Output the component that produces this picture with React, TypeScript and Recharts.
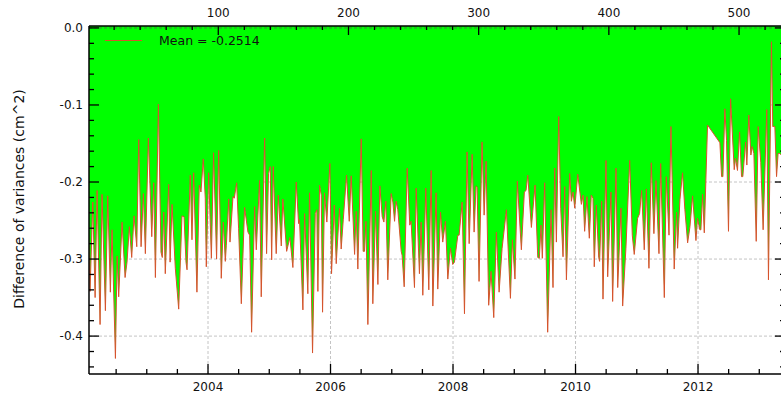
import React from 'react';
import { AreaChart, Area, XAxis, YAxis, CartesianGrid, Legend, ReferenceLine } from 'recharts';

// Sample index (top axis)
const weekIndex = [
  0, 1.5, 3.6, 5.4, 6.9, 9.2, 10.7, 13.3, 15.1, 17.1, 18.4, 21.0, 22.3, 23.5, 26.1, 28.4, 29.9, 31.7, 33.5, 35.3,
  37.4, 38.9, 40.7, 42.5, 44.0, 46.3, 48.9, 50.4, 51.7, 54.0, 56.0, 57.0, 58.1, 59.3, 61.9, 63.0, 64.5, 67.0, 69.6, 72.1,
  73.7, 75.2, 76.0, 78.5, 79.8, 81.1, 83.6, 85.4, 86.7, 88.5, 90.0,
  90.8, 92.6, 94.7, 96.4, 98.7, 100.3, 102.3, 103.9, 105.4, 106.2, 108.0, 109.0, 111.3, 112.3, 114.1, 115.6, 117.7, 120.2, 122.8,
  124.1, 125.6, 127.9, 129.2, 131.7, 133.0, 135.6, 137.1, 138.6, 139.9, 141.0, 142.2, 144.5, 146.1, 148.4, 149.6, 152.5, 155.0,
  157.3, 159.9, 161.7, 162.4, 165.0, 166.3, 168.8, 170.1, 172.4, 174.5, 175.7, 176.5, 177.8, 179.1,
  180.1, 181.6, 183.4, 185.7, 187.0, 189.1, 190.6, 193.1, 194.4, 196.0, 198.5, 200.6, 202.1, 204.7, 205.9, 207.2, 209.8, 211.3,
  212.3, 213.4, 214.9, 217.5, 218.7, 220.8, 222.6, 224.1, 225.9, 227.2, 228.7, 230.2, 232.8, 234.1, 235.4, 236.6, 237.9, 240.5,
  241.2, 242.8, 245.1, 247.1, 248.1, 250.7, 252.0, 254.5, 255.8, 257.1, 259.4, 261.7, 263.5, 264.8, 267.3,
  268.6, 270.7, 272.4, 274.5, 276.3, 278.3, 280.1, 281.4, 284.0, 285.0, 287.3, 289.1, 291.1, 292.7, 295.0, 296.5, 298.0, 298.8,
  300.3, 302.6, 304.2, 305.7, 307.7, 309.5, 311.6, 313.6, 315.7, 318.0, 321.3, 324.4, 325.9, 327.9, 329.7, 332.8, 335.1, 336.4,
  337.7, 340.5, 343.3, 345.4, 346.6, 347.9, 348.9, 350.7, 353.0, 355.6,
  357.1, 358.4, 359.7, 361.5, 363.0, 364.8, 366.1, 367.4, 369.9, 371.2, 372.5, 373.8, 376.1, 378.9, 380.2, 381.4, 383.2, 385.0,
  386.5, 387.8, 388.8, 390.4, 392.2, 392.9, 394.5, 395.5, 397.8, 399.1, 401.6, 402.9, 405.5, 406.8, 409.3, 410.6, 413.1, 416.0,
  418.0, 419.5, 422.1, 423.6, 425.2, 427.2, 428.8, 430.8, 432.6, 434.6, 436.2, 438.5, 439.8, 442.6, 444.1, 446.2,
  447.7, 450.2, 452.0, 452.8, 454.6, 456.6, 458.4, 460.5, 462.3, 464.3, 466.9, 468.1, 469.9, 470.7, 472.0, 473.3, 475.8, 485.3,
  486.6, 487.6, 489.1, 490.4, 491.9, 493.5, 496.3, 497.3, 498.8, 500.4, 501.9, 502.9, 505.0, 506.0, 507.5, 509.1, 510.1, 511.4,
  513.2, 514.7, 516.7, 518.5, 521.3, 522.6, 524.9, 525.9, 527.5, 528.8, 530.0, 531.3, 535.5,
];

// Difference of variances (cm^2)
const diffVariance = [
  -0.243, -0.342, -0.226, -0.350, -0.211, -0.385, -0.216, -0.367, -0.218, -0.343, -0.262, -0.429, -0.296, -0.349, -0.252, -0.324, -0.304, -0.258, -0.298, -0.244,
  -0.284, -0.145, -0.284, -0.215, -0.293, -0.143, -0.271, -0.201, -0.324, -0.099, -0.291, -0.298, -0.239, -0.319, -0.203, -0.304, -0.229, -0.312, -0.365, -0.244,
  -0.245, -0.304, -0.314, -0.191, -0.275, -0.188, -0.343, -0.204, -0.213, -0.170, -0.221,
  -0.310, -0.188, -0.299, -0.162, -0.300, -0.159, -0.325, -0.252, -0.303, -0.282, -0.222, -0.278, -0.219, -0.221, -0.201, -0.260, -0.358, -0.233, -0.265,
  -0.269, -0.395, -0.232, -0.288, -0.198, -0.349, -0.143, -0.293, -0.189, -0.180, -0.301, -0.180, -0.293, -0.217, -0.283, -0.222, -0.290, -0.272,
  -0.311, -0.200, -0.254, -0.249, -0.366, -0.241, -0.345, -0.214, -0.422, -0.241, -0.236, -0.342, -0.204, -0.217,
  -0.369, -0.214, -0.252, -0.176, -0.319, -0.230, -0.306, -0.234, -0.287, -0.249, -0.191, -0.251, -0.192, -0.294, -0.238, -0.313, -0.144, -0.290,
  -0.290, -0.251, -0.385, -0.185, -0.358, -0.238, -0.333, -0.205, -0.245, -0.252, -0.225, -0.327, -0.215, -0.226, -0.251, -0.225, -0.236, -0.290,
  -0.295, -0.336, -0.182, -0.256, -0.251, -0.337, -0.208, -0.319, -0.252, -0.347, -0.208, -0.340, -0.185, -0.361, -0.214,
  -0.339, -0.239, -0.278, -0.251, -0.326, -0.286, -0.307, -0.304, -0.269, -0.269, -0.226, -0.371, -0.161, -0.280, -0.164, -0.265, -0.205, -0.207,
  -0.329, -0.148, -0.243, -0.173, -0.360, -0.316, -0.376, -0.265, -0.343, -0.286, -0.236, -0.351, -0.275, -0.326, -0.199, -0.288, -0.213, -0.211,
  -0.191, -0.259, -0.204, -0.298, -0.299, -0.256, -0.299, -0.201, -0.395, -0.236,
  -0.337, -0.182, -0.278, -0.115, -0.234, -0.297, -0.206, -0.327, -0.189, -0.225, -0.213, -0.234, -0.190, -0.229, -0.217, -0.264, -0.219, -0.273,
  -0.217, -0.221, -0.310, -0.230, -0.298, -0.303, -0.225, -0.352, -0.172, -0.323, -0.213, -0.355, -0.182, -0.337, -0.234, -0.361, -0.286, -0.172,
  -0.269, -0.294, -0.247, -0.241, -0.211, -0.288, -0.209, -0.312, -0.175, -0.267, -0.198, -0.293, -0.176, -0.350, -0.193, -0.269,
  -0.128, -0.313, -0.239, -0.286, -0.223, -0.188, -0.236, -0.279, -0.258, -0.218, -0.276, -0.247, -0.262, -0.262, -0.216, -0.266, -0.126, -0.149,
  -0.193, -0.193, -0.105, -0.146, -0.264, -0.092, -0.184, -0.169, -0.185, -0.135, -0.193, -0.193, -0.148, -0.178, -0.113, -0.165, -0.154, -0.163,
  -0.277, -0.128, -0.175, -0.262, -0.106, -0.327, -0.018, -0.128, -0.128, -0.193, -0.163, -0.163, -0.170,
];

const legendLabel = 'Mean = -0.2514';
const yLabel = 'Difference of variances (cm^2)';

// Time axis: sample 0.7 falls at 2002.057, one sample step is ~0.02125 year (weekly)
const startYear = 2002.057;
const yearsPerSample = 0.021254;

const yearMajorTicks = [2004, 2006, 2008, 2010, 2012];
const yearTicks = [2002.5, 2003, 2003.5, 2004, 2004.5, 2005, 2005.5, 2006, 2006.5, 2007, 2007.5, 2008, 2008.5, 2009, 2009.5, 2010, 2010.5, 2011, 2011.5, 2012, 2012.5, 2013];
const indexMajorTicks = [100, 200, 300, 400, 500];
const indexTicks = [20, 40, 60, 80, 100, 120, 140, 160, 180, 200, 220, 240, 260, 280, 300, 320, 340, 360, 380, 400, 420, 440, 460, 480, 500, 520];
const varianceMajorTicks = [0, -0.1, -0.2, -0.3, -0.4];
const varianceTicks = [0, -0.02, -0.04, -0.06, -0.08, -0.1, -0.12, -0.14, -0.16, -0.18, -0.2, -0.22, -0.24, -0.26, -0.28, -0.3, -0.32, -0.34, -0.36, -0.38, -0.4, -0.42, -0.44];

const data = weekIndex.map((i, k) => ({ i, t: startYear + (i - 0.7) * yearsPerSample, v: diffVariance[k] }));

const FONT = '"DejaVu Sans", Verdana, sans-serif';
const TM = 4;
const LINE = '#d6532d';
const TXT = '#111';
const isMajor = (list: number[], v: number) => list.some((m) => Math.abs(m - v) < 1e-9);

function BottomTick(p: any) {
  const spine = p.y - TM;
  const major = isMajor(yearMajorTicks, p.payload.value);
  return (
    <g>
      <line x1={p.x} x2={p.x} y1={spine} y2={spine - (major ? 10 : 5)} stroke="#000" strokeWidth={1.3} />
      {major && (
        <text x={p.x} y={spine + 13} textAnchor="middle" dominantBaseline="central" fontSize={12} fontFamily={FONT} fill={TXT}>
          {p.payload.value}
        </text>
      )}
    </g>
  );
}

function TopTick(p: any) {
  const spine = p.y + TM;
  const major = isMajor(indexMajorTicks, p.payload.value);
  return (
    <g>
      <line x1={p.x} x2={p.x} y1={spine} y2={spine + (major ? 9 : 4)} stroke="#000" strokeWidth={1.3} />
      {major && (
        <text x={p.x} y={spine - 13.5} textAnchor="middle" dominantBaseline="central" fontSize={12} fontFamily={FONT} fill={TXT}>
          {p.payload.value}
        </text>
      )}
    </g>
  );
}

function LeftTick(p: any) {
  const spine = p.x + TM;
  const major = isMajor(varianceMajorTicks, p.payload.value);
  return (
    <g>
      <line x1={spine} x2={spine + (major ? 10 : 5)} y1={p.y} y2={p.y} stroke="#000" strokeWidth={1.3} />
      {major && (
        <text x={spine - 6} y={p.y} textAnchor="end" dominantBaseline="central" fontSize={12} fontFamily={FONT} fill={TXT}>
          {Math.abs(p.payload.value) < 1e-9 ? '0.0' : p.payload.value.toFixed(1)}
        </text>
      )}
    </g>
  );
}

function RightTick(p: any) {
  const spine = p.x - TM;
  const major = isMajor(varianceMajorTicks, p.payload.value);
  return <line x1={spine} x2={spine - (major ? 10 : 5)} y1={p.y} y2={p.y} stroke="#000" strokeWidth={1.3} />;
}

function LegendBox(props: any) {
  const item = (props.payload && props.payload[0]) || { value: legendLabel, color: LINE };
  return (
    <svg width={300} height={60} style={{ display: 'block' }}>
      <line x1={105} x2={142} y1={40.5} y2={40.5} stroke={LINE} strokeWidth={1.2} />
      <text x={159} y={40.5} dominantBaseline="central" fontSize={12.5} fontFamily={FONT} fill={TXT}>
        {item.value}
      </text>
    </svg>
  );
}

export default function App() {
  return (
    <div style={{ position: 'fixed', left: 0, top: 0, width: 781, height: 398, overflow: 'hidden', background: '#fff' }}>
      <AreaChart width={800} height={398} data={data} margin={{ top: 0, right: 0, bottom: 0, left: 0 }}>
        <CartesianGrid
          xAxisId="year"
          yAxisId="v"
          verticalValues={yearMajorTicks}
          horizontalValues={[-0.1, -0.2, -0.3, -0.4]}
          stroke="#c4c4c4"
          strokeDasharray="3 2"
        />
        <XAxis
          xAxisId="year"
          dataKey="t"
          type="number"
          orientation="bottom"
          domain={[2002.057, 2013.42]}
          allowDataOverflow
          ticks={yearTicks}
          interval={0}
          height={24}
          tickSize={0}
          tickMargin={TM}
          tickLine={false}
          axisLine={{ stroke: '#000', strokeWidth: 1.5 }}
          tick={(p: any) => <BottomTick {...p} />}
        />
        <XAxis
          xAxisId="idx"
          dataKey="i"
          type="number"
          orientation="top"
          domain={[0.7, 535.3]}
          allowDataOverflow
          ticks={indexTicks}
          interval={0}
          height={26}
          tickSize={0}
          tickMargin={TM}
          tickLine={false}
          axisLine={{ stroke: '#000', strokeWidth: 1.5 }}
          tick={(p: any) => <TopTick {...p} />}
        />
        <YAxis
          yAxisId="v"
          type="number"
          orientation="left"
          domain={[-0.4492, 0.0025]}
          allowDataOverflow
          ticks={varianceTicks}
          interval={0}
          width={89}
          tickSize={0}
          tickMargin={TM}
          tickLine={false}
          axisLine={{ stroke: '#000', strokeWidth: 1.5 }}
          tick={(p: any) => <LeftTick {...p} />}
          label={() => (
            <text
              x={19}
              y={199}
              transform="rotate(-90 19 199)"
              textAnchor="middle"
              dominantBaseline="central"
              fontSize={14}
              fontFamily={FONT}
              fill={TXT}
            >
              {yLabel}
            </text>
          )}
        />
        <YAxis
          yAxisId="r"
          type="number"
          orientation="right"
          domain={[-0.4492, 0.0025]}
          allowDataOverflow
          ticks={varianceTicks}
          interval={0}
          width={15}
          tickSize={0}
          tickMargin={TM}
          tickLine={false}
          axisLine={{ stroke: '#000', strokeWidth: 1.5 }}
          tick={(p: any) => <RightTick {...p} />}
        />
        <Area
          xAxisId="idx"
          yAxisId="v"
          type="linear"
          dataKey="v"
          name={legendLabel}
          stroke={LINE}
          strokeWidth={1}
          fill="#00ff00"
          fillOpacity={1}
          baseValue="dataMax"
          dot={false}
          activeDot={false}
          isAnimationActive={false}
        />
        <ReferenceLine xAxisId="idx" yAxisId="v" y={0} stroke="#555" strokeWidth={0.8} strokeDasharray="3 2" />
        <Legend
          layout="horizontal"
          verticalAlign="middle"
          align="center"
          content={(p: any) => <LegendBox {...p} />}
          wrapperStyle={{ position: 'absolute', left: 0, top: 0, width: 300, height: 60 }}
        />
      </AreaChart>
    </div>
  );
}
